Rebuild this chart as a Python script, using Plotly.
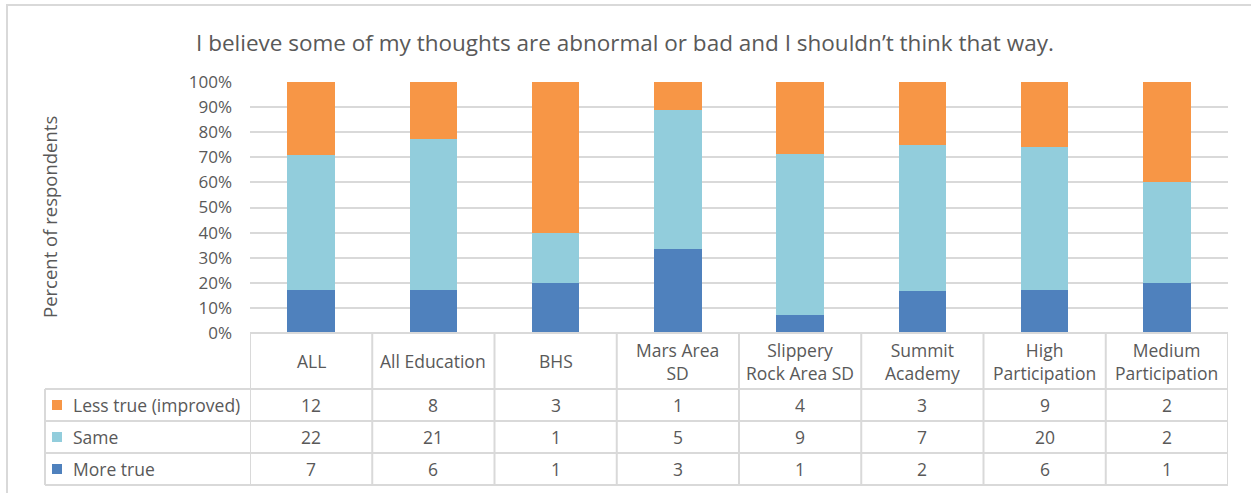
import plotly.graph_objects as go

# Survey responses per group
groups = ["ALL", "All Education", "BHS", "Mars Area<br>SD", "Slippery<br>Rock Area SD",
          "Summit<br>Academy", "High<br>Participation", "Medium<br>Participation"]
series_names = ["Less true (improved)", "Same", "More true"]
less_true = [12, 8, 3, 1, 4, 3, 9, 2]
same = [22, 21, 1, 5, 9, 7, 20, 2]
more_true = [7, 6, 1, 3, 1, 2, 6, 1]
y_ticks = [0, 10, 20, 30, 40, 50, 60, 70, 80, 90, 100]
y_tick_text = ["0%", "10%", "20%", "30%", "40%", "50%", "60%", "70%", "80%", "90%", "100%"]

colors = {"Less true (improved)": "#F79646", "Same": "#92CDDC", "More true": "#4F81BD"}
counts = {"Less true (improved)": less_true, "Same": same, "More true": more_true}

W, H = 1251, 493
TEXT = "#595959"
GRID = "#D9D9D9"
FONT = "Open Sans"
TABLE_SIZE = 17.5

def py(p):
    """pixel row -> paper y"""
    return 1 - p / H

def px(p):
    """pixel column -> paper x"""
    return p / W

totals = [a + b + c for a, b, c in zip(less_true, same, more_true)]
xs = list(range(len(groups)))

fig = go.Figure()
for name in ["More true", "Same", "Less true (improved)"]:
    pct = [100 * v / t for v, t in zip(counts[name], totals)]
    fig.add_trace(go.Bar(
        x=xs, y=pct, name=name, width=0.39,
        marker=dict(color=colors[name], line=dict(width=0)),
        customdata=counts[name],
        hovertemplate=name + ": %{customdata} (%{y:.1f}%)<extra></extra>",
    ))

plot_top, plot_bot = 82, 333
tab_left, tab_right = 250, 1228
leg_left = 45
row_lines = [389, 421, 453, 485]

shapes = []
# outer chart border
shapes.append(dict(type="rect", xref="paper", yref="paper",
                   x0=px(7), x1=px(1262), y0=py(505), y1=py(5),
                   line=dict(color=GRID, width=2), layer="below"))
# table: top edge of header
shapes.append(dict(type="line", xref="paper", yref="paper",
                   x0=px(tab_left), x1=px(tab_right), y0=py(plot_bot), y1=py(plot_bot),
                   line=dict(color=GRID, width=2)))
# table: row lines
for r in row_lines:
    shapes.append(dict(type="line", xref="paper", yref="paper",
                       x0=px(leg_left), x1=px(tab_right), y0=py(r), y1=py(r),
                       line=dict(color=GRID, width=2)))
# table: column lines on category boundaries
for k in range(len(groups) + 1):
    shapes.append(dict(type="line", xref="x", yref="paper",
                       x0=k - 0.5, x1=k - 0.5, y0=py(485), y1=py(plot_bot),
                       line=dict(color=GRID, width=2)))
# legend column left edge
shapes.append(dict(type="line", xref="paper", yref="paper",
                   x0=px(leg_left), x1=px(leg_left), y0=py(485), y1=py(389),
                   line=dict(color=GRID, width=2)))

annotations = []
# header row with group names
for i, g in enumerate(groups):
    annotations.append(dict(x=i, y=py(361), xref="x", yref="paper", text=g,
                            showarrow=False, font=dict(size=TABLE_SIZE, color=TEXT, family=FONT),
                            xanchor="center", yanchor="middle"))
# value rows with legend keys
row_centers = [405, 437, 469]
for name, rc in zip(series_names, row_centers):
    shapes.append(dict(type="rect", xref="paper", yref="paper",
                       x0=px(52), x1=px(62), y0=py(rc + 5), y1=py(rc - 5),
                       fillcolor=colors[name], line=dict(width=0)))
    annotations.append(dict(x=px(71), y=py(rc), xref="paper", yref="paper", text=name,
                            showarrow=False, font=dict(size=TABLE_SIZE, color=TEXT, family=FONT),
                            xanchor="left", yanchor="middle"))
    for i, v in enumerate(counts[name]):
        annotations.append(dict(x=i, y=py(rc), xref="x", yref="paper", text=str(v),
                                showarrow=False, font=dict(size=TABLE_SIZE, color=TEXT, family=FONT),
                                xanchor="center", yanchor="middle"))

# title and axis title
annotations.append(dict(x=px(625), y=py(42), xref="paper", yref="paper",
                        text="I believe some of my thoughts are abnormal or bad and I shouldn\u2019t think that way.",
                        showarrow=False, font=dict(size=22.5, color=TEXT, family=FONT),
                        xanchor="center", yanchor="middle"))
annotations.append(dict(x=px(50), y=py(217), xref="paper", yref="paper",
                        text="Percent of respondents", textangle=-90,
                        showarrow=False, font=dict(size=18.5, color=TEXT, family=FONT),
                        xanchor="center", yanchor="middle"))

fig.update_layout(
    width=W, height=H,
    margin=dict(l=0, r=0, t=0, b=0),
    paper_bgcolor="white", plot_bgcolor="white",
    barmode="stack", showlegend=False,
    font=dict(family=FONT, color=TEXT),
    xaxis=dict(domain=[px(tab_left), px(tab_right)], range=[-0.5, len(groups) - 0.5],
               showticklabels=False, showgrid=False, zeroline=False, showline=False,
               automargin=False, fixedrange=True),
    yaxis=dict(domain=[py(plot_bot), py(plot_top)], range=[0, 100],
               tickmode="array", tickvals=y_ticks, ticktext=y_tick_text,
               showgrid=True, gridcolor=GRID, gridwidth=2,
               zeroline=False, showline=False, ticklabelstandoff=17, automargin=False,
               tickfont=dict(size=17, color=TEXT, family=FONT), fixedrange=True),
    shapes=shapes, annotations=annotations,
)

# page body without default spacing so the figure fills the window exactly
fig.write_html("out.html", post_script="document.body.style.margin='0';")
